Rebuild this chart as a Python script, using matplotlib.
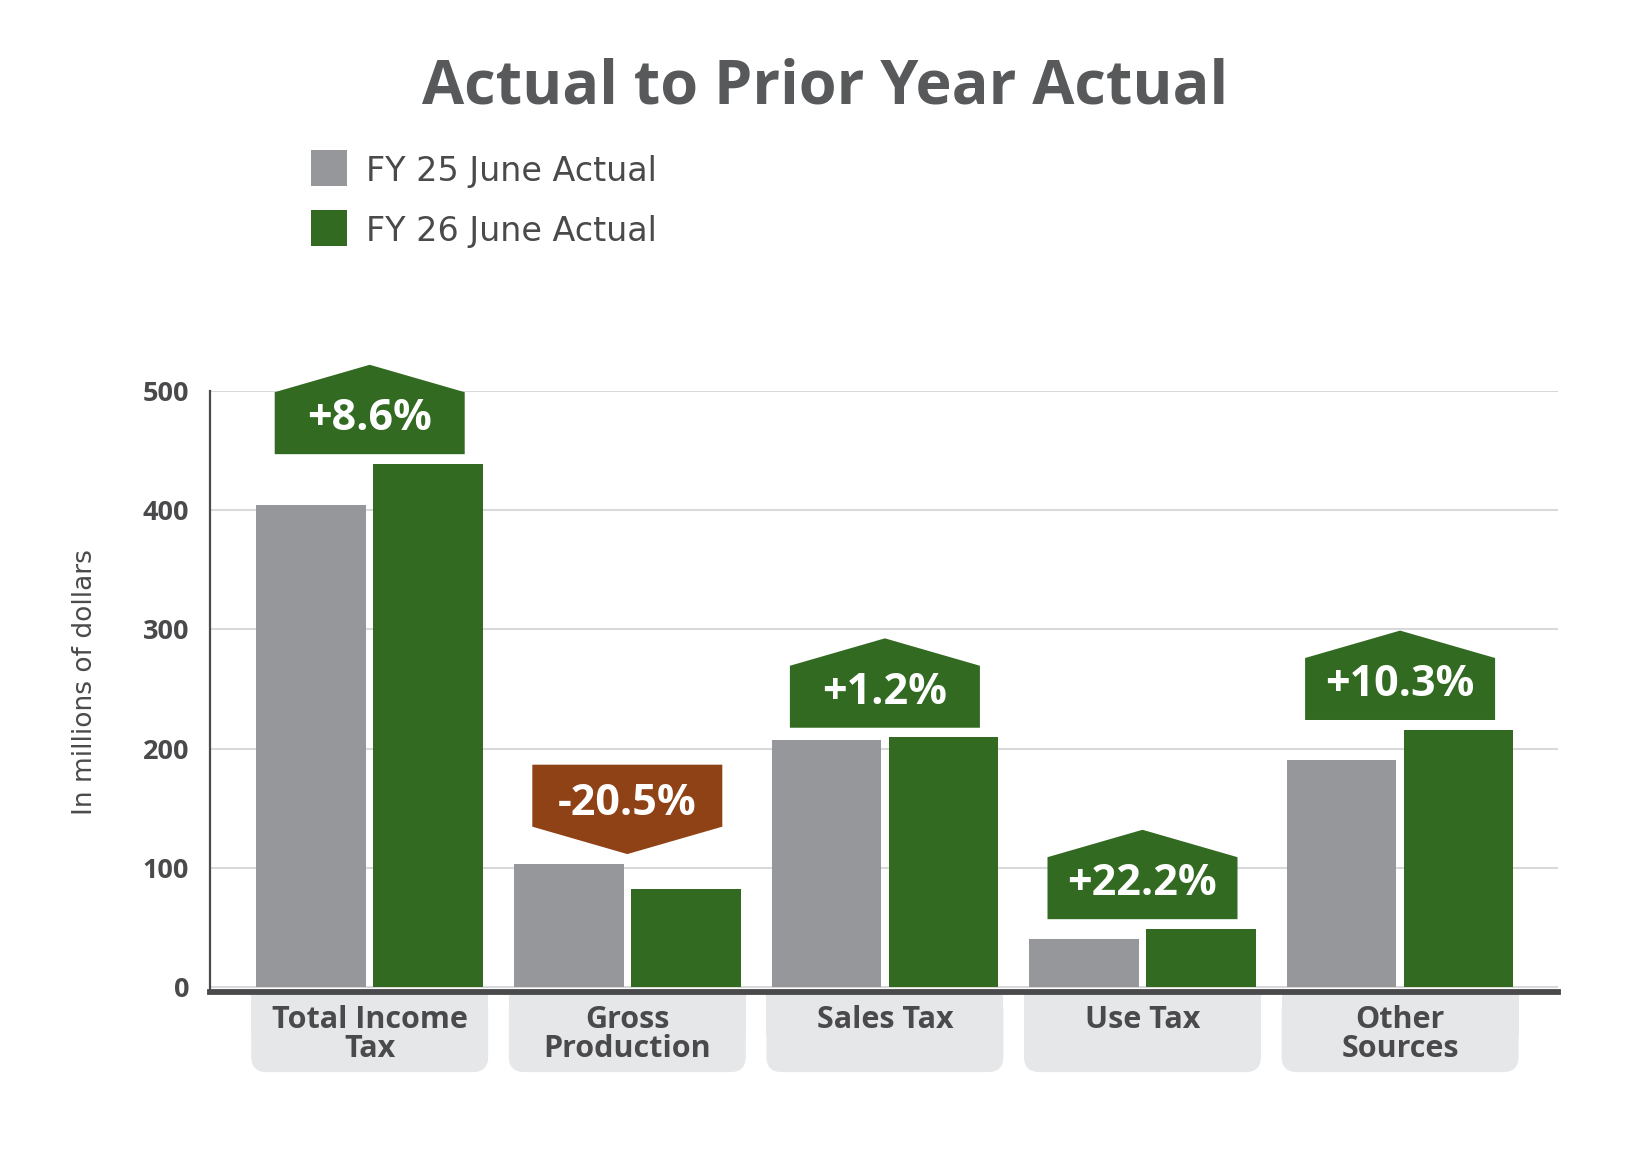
import matplotlib.pyplot as plt
import numpy as np
from matplotlib.patches import Polygon, Rectangle, FancyBboxPatch

# Data (millions of dollars)
categories = ["Total Income\nTax", "Gross\nProduction", "Sales Tax", "Use Tax", "Other\nSources"]
fy25 = [404, 103.5, 207, 40, 190.5]
fy26 = [439, 82.3, 209.5, 48.9, 216]
changes = ["+8.6%", "-20.5%", "+1.2%", "+22.2%", "+10.3%"]
series_names = ["FY 25 June Actual", "FY 26 June Actual"]
yticks = [0, 100, 200, 300, 400, 500]

GRAY = "#96979a"
GREEN = "#336a22"
BROWN = "#8f4216"
TEXT = "#4a4a4c"
TITLE = "#58595b"
BOX = "#e6e7e8"
GRID = "#d9d9db"
FONT = "Open Sans"
WIDE = "DejaVu Sans"

plt.rcParams['font.family'] = [FONT, 'DejaVu Sans']

W, H = 1650, 1159
fig = plt.figure(figsize=(16.5, 11.59), dpi=100)
# axes placed in pixel terms: left spine at x=210, 500 line at y=391, base line at y=992
ax = fig.add_axes([210 / W, 1 - 992 / H, (1558 - 210) / W, (992 - 391) / H])

x = np.arange(len(categories))
bw = 0.425
off = 0.227
bars25 = ax.bar(x - off, fy25, bw, color=GRAY, zorder=3)
bars26 = ax.bar(x + off, fy26, bw, color=GREEN, zorder=3)

ax.set_xlim(-0.62, 4.613)
ax.set_ylim(-4.2, 500)
ax.set_yticks(yticks)
ax.set_xticks([])
ax.yaxis.grid(True, color=GRID, lw=1.5)
ax.set_axisbelow(True)
for s in ['top', 'right']:
    ax.spines[s].set_visible(False)
ax.spines['left'].set_color(TEXT)
ax.spines['left'].set_linewidth(1.6)
ax.spines['bottom'].set_color(TEXT)
ax.spines['bottom'].set_linewidth(4.2)
ax.tick_params(axis='y', length=0, pad=15, labelsize=19.5, labelcolor=TEXT)
for t in ax.get_yticklabels():
    t.set_fontweight('bold')

# category label boxes under the axis (rounded bottom corners only)
px_per_x = (1558 - 210) / (4.613 + 0.62)
px_per_y = (992 - 391) / 504.2
aspect = px_per_x / px_per_y
box_w = 0.92
for i, lab in enumerate(categories):
    ax.add_patch(FancyBboxPatch((x[i] - box_w / 2, -71.4), box_w, 64.7,
                                boxstyle="round,pad=0,rounding_size=0.06",
                                mutation_aspect=aspect, fc=BOX, ec='none',
                                clip_on=False, zorder=1))
    ax.add_patch(Rectangle((x[i] - box_w / 2, -40), box_w, 33.3, fc=BOX, ec='none',
                           clip_on=False, zorder=1))
    ax.text(x[i], -15.5, lab, ha='center', va='top', fontsize=22, fontweight='bold',
            color=TEXT, linespacing=0.92, zorder=4)

# change badges above each pair of bars
gap, body, tip = 8, 52, 23
badge_w = 0.7376
for i, txt in enumerate(changes):
    top = max(fy25[i], fy26[i]) + gap
    xc, hw = x[i], badge_w / 2
    if txt.startswith('-'):
        pts = [(xc - hw, top + tip + body), (xc + hw, top + tip + body), (xc + hw, top + tip),
               (xc, top), (xc - hw, top + tip)]
        col, base = BROWN, top + tip + 10
    else:
        pts = [(xc - hw, top), (xc + hw, top), (xc + hw, top + body),
               (xc, top + body + tip), (xc - hw, top + body)]
        col, base = GREEN, top + 20
    ax.add_patch(Polygon(pts, closed=True, fc=col, ec='none', clip_on=False, zorder=5))
    ax.text(xc, base, txt, ha='center', va='baseline', fontsize=31, fontweight='bold',
            color='white', zorder=6)

# title
fig.text(0.5, 1 - 103 / H, "Actual to Prior Year Actual", ha='center', va='baseline',
         fontsize=44, fontweight='bold', color=TITLE)

# legend drawn by hand
for j, (name, col) in enumerate(zip(series_names, [GRAY, GREEN])):
    y0 = [150, 209.5][j]
    fig.patches.append(Rectangle((310.5 / W, 1 - (y0 + 36) / H), 36.5 / W, 36 / H,
                                 transform=fig.transFigure, fc=col, ec='none'))
    fig.text(366 / W, 1 - (y0 + 31) / H, name, ha='left', va='baseline',
             fontsize=24, color=TEXT, family=WIDE)

# y axis title
fig.text(85 / W, 1 - 682.5 / H, "In millions of dollars", rotation=90, ha='center',
         va='center', fontsize=19, color=TEXT, family=WIDE)

fig.savefig("out.png", dpi=100)
